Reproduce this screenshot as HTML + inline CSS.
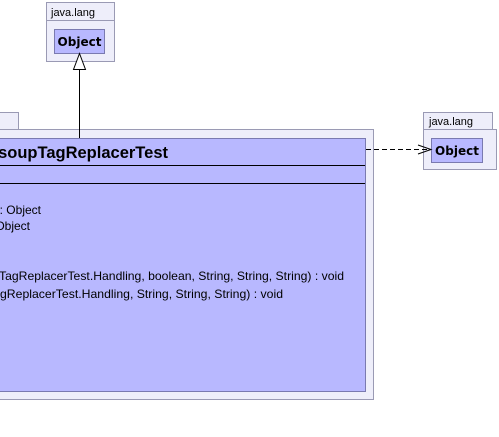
<!DOCTYPE html>
<html><head><meta charset="utf-8"><style>html,body{margin:0;padding:0;background:#fff;}svg{display:block}</style></head>
<body>
<svg width="499" height="437" xmlns="http://www.w3.org/2000/svg" font-family="Liberation Sans, sans-serif">
<!-- top package -->
<rect x="46.5" y="2.5" width="68" height="18" fill="#eeeefa" stroke="#9a9ab4"/>
<rect x="46.5" y="20.5" width="68" height="41" fill="#eeeefa" stroke="#9a9ab4"/>
<text x="51" y="16" font-size="11" fill="#000">java.lang</text>
<rect x="54.5" y="29.5" width="50" height="24" fill="#b8b8ff" stroke="#7a7ab0"/>
<text x="79.5" y="46" font-size="12" font-weight="bold" text-anchor="middle" font-family="DejaVu Sans, sans-serif">Object</text>
<!-- main package -->
<rect x="-5" y="112.5" width="23.5" height="17" fill="#eeeefa" stroke="#9a9ab4"/>
<rect x="-5" y="129.5" width="378.5" height="270" fill="#eeeefa" stroke="#9a9ab4"/>
<rect x="-5" y="138.5" width="370.5" height="253" fill="#b8b8ff" stroke="#7a7ab0"/>
<line x1="0" y1="165.5" x2="365" y2="165.5" stroke="#000"/>
<line x1="0" y1="183.5" x2="365" y2="183.5" stroke="#000"/>
<text x="168" y="158" font-size="16.5" font-weight="bold" text-anchor="end">soupTagReplacerTest</text>
<text x="41" y="214" font-size="12" text-anchor="end">: Object</text>
<text x="30" y="230" font-size="12" text-anchor="end">Object</text>
<text x="-1" y="280" font-size="12" textLength="345" lengthAdjust="spacingAndGlyphs">TagReplacerTest.Handling, boolean, String, String, String) : void</text>
<text x="0" y="298" font-size="12" textLength="283" lengthAdjust="spacingAndGlyphs">gReplacerTest.Handling, String, String, String) : void</text>
<!-- generalization -->
<line x1="79.5" y1="69" x2="79.5" y2="138" stroke="#000"/>
<polygon points="79.5,53.5 73.5,69.5 85.5,69.5" fill="#fff" stroke="#000"/>
<!-- right package -->
<rect x="423.5" y="112.5" width="69" height="17" fill="#eeeefa" stroke="#9a9ab4"/>
<rect x="423.5" y="129.5" width="73" height="40" fill="#eeeefa" stroke="#9a9ab4"/>
<text x="429" y="125" font-size="11">java.lang</text>
<rect x="431.5" y="138.5" width="51" height="24" fill="#b8b8ff" stroke="#7a7ab0"/>
<text x="457" y="155" font-size="12" font-weight="bold" text-anchor="middle" font-family="DejaVu Sans, sans-serif">Object</text>
<!-- dependency -->
<line x1="366" y1="149.5" x2="430" y2="149.5" stroke="#000" stroke-dasharray="5,3"/>
<polyline points="418,145 431,149.5 418,154" fill="none" stroke="#000"/>
</svg>
</body></html>
